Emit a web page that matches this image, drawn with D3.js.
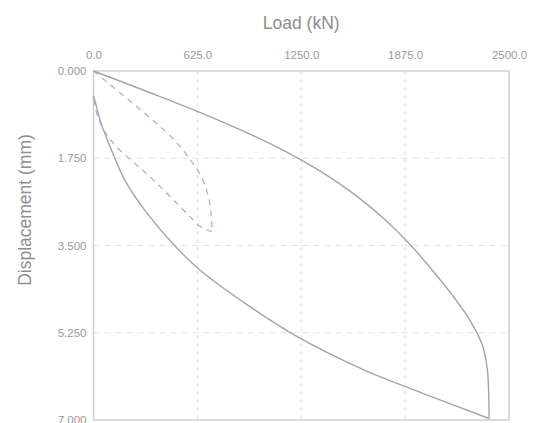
<!DOCTYPE html>
<html>
<head>
<meta charset="utf-8">
<script src="https://cdn.jsdelivr.net/npm/d3@7"></script>
<style>
  body { margin: 0; background: #fff; }
  svg { display: block; font-family: "Liberation Sans", Arial, sans-serif; }
</style>
</head>
<body>
<script>
// Load (kN) vs displacement (mm)
const xTicks = [0, 625, 1250, 1875, 2500];
const yTicks = [0, 1.75, 3.5, 5.25, 7];

// large cycle (solid)
const bigUpLoad = [0, 390, 760, 1090, 1360, 1580, 1760, 1910, 2040, 2160, 2265, 2340, 2370, 2378, 2380];
const bigUpDisp = [0, 0.5, 1.0, 1.5, 2.0, 2.5, 3.0, 3.5, 4.0, 4.5, 5.0, 5.5, 6.0, 6.5, 6.97];
const bigDownLoad = [2380, 2010, 1630, 1242, 930, 640, 490, 310, 190, 105, 45, 12, 0];
const bigDownDisp = [6.97, 6.5, 6.0, 5.36, 4.7, 3.99, 3.51, 2.8, 2.2, 1.56, 1.04, 0.64, 0.5];

// small cycle (dashed)
const smallUpLoad = [0, 110, 305, 480, 580, 645, 690, 707, 712, 713];
const smallUpDisp = [0, 0.3, 0.84, 1.36, 1.77, 2.1, 2.5, 2.85, 3.1, 3.22];
const smallDownLoad = [713, 690, 635, 560, 380, 265, 150, 85, 35, 8, 0];
const smallDownDisp = [3.22, 3.2, 3.1, 2.85, 2.25, 1.9, 1.56, 1.3, 1.0, 0.7, 0.52];

const w = 548, h = 423;
const margin = { top: 71, right: 39, bottom: 3, left: 93.5 };

const svg = d3.select("body").append("svg")
  .attr("width", w)
  .attr("height", h);

const x = d3.scaleLinear().domain([0, 2500]).range([margin.left, w - margin.right]);
const y = d3.scaleLinear().domain([0, 7]).range([margin.top, h - margin.bottom]);

// grid
svg.append("g")
  .selectAll("line")
  .data(xTicks.slice(1, -1))
  .enter().append("line")
  .attr("x1", d => x(d)).attr("x2", d => x(d))
  .attr("y1", y(0)).attr("y2", y(7))
  .attr("stroke", "#ecd8d8")
  .attr("stroke-dasharray", "4,4");

svg.append("g")
  .selectAll("line")
  .data(yTicks.slice(1, -1))
  .enter().append("line")
  .attr("x1", x(0)).attr("x2", x(2500))
  .attr("y1", d => y(d)).attr("y2", d => y(d))
  .attr("stroke", "#ecdcdc")
  .attr("stroke-dasharray", "6,5");

// axes
const xAxis = d3.axisTop(x).tickValues(xTicks).tickFormat(d3.format(".1f")).tickSize(0).tickPadding(12);
const yAxis = d3.axisLeft(y).tickValues(yTicks).tickFormat(d3.format(".3f")).tickSize(0).tickPadding(7);

svg.append("g")
  .attr("transform", `translate(0,${margin.top})`)
  .call(xAxis)
  .call(g => g.select(".domain").remove())
  .selectAll("text").attr("fill", "#9a9a9a").style("font-size", "11.5px");

svg.append("g")
  .attr("transform", `translate(${margin.left},0)`)
  .call(yAxis)
  .call(g => g.select(".domain").remove())
  .selectAll("text").attr("fill", "#9a9a9a").style("font-size", "11.5px");

// frame
svg.append("rect")
  .attr("x", x(0)).attr("y", y(0))
  .attr("width", x(2500) - x(0))
  .attr("height", y(7) - y(0))
  .attr("fill", "none")
  .attr("stroke", "#cfcfcf")
  .attr("stroke-width", 1.5);

// curves
const line = d3.line()
  .x(d => x(d[0]))
  .y(d => y(d[1]))
  .curve(d3.curveCatmullRom.alpha(0.5));

const pairs = (a, b) => a.map((v, i) => [v, b[i]]);

[[bigUpLoad, bigUpDisp], [bigDownLoad, bigDownDisp]].forEach(([l, dsp]) => {
  svg.append("path")
    .datum(pairs(l, dsp))
    .attr("d", line)
    .attr("fill", "none")
    .attr("stroke", "#a3a3ab")
    .attr("stroke-width", 1.4);
});

[[smallUpLoad, smallUpDisp], [smallDownLoad, smallDownDisp]].forEach(([l, dsp]) => {
  svg.append("path")
    .datum(pairs(l, dsp))
    .attr("d", line)
    .attr("fill", "none")
    .attr("stroke", "#a9a9d9")
    .attr("stroke-width", 1.2)
    .attr("stroke-dasharray", "6,5");
});

// titles
svg.append("text")
  .attr("x", (x(0) + x(2500)) / 2)
  .attr("y", 29)
  .attr("text-anchor", "middle")
  .attr("fill", "#8e8e8e")
  .style("font-size", "17.5px")
  .text("Load (kN)");

svg.append("text")
  .attr("transform", "translate(31,210) rotate(-90)")
  .attr("text-anchor", "middle")
  .attr("fill", "#8e8e8e")
  .style("font-size", "17.5px")
  .text("Displacement (mm)");
</script>
</body>
</html>
